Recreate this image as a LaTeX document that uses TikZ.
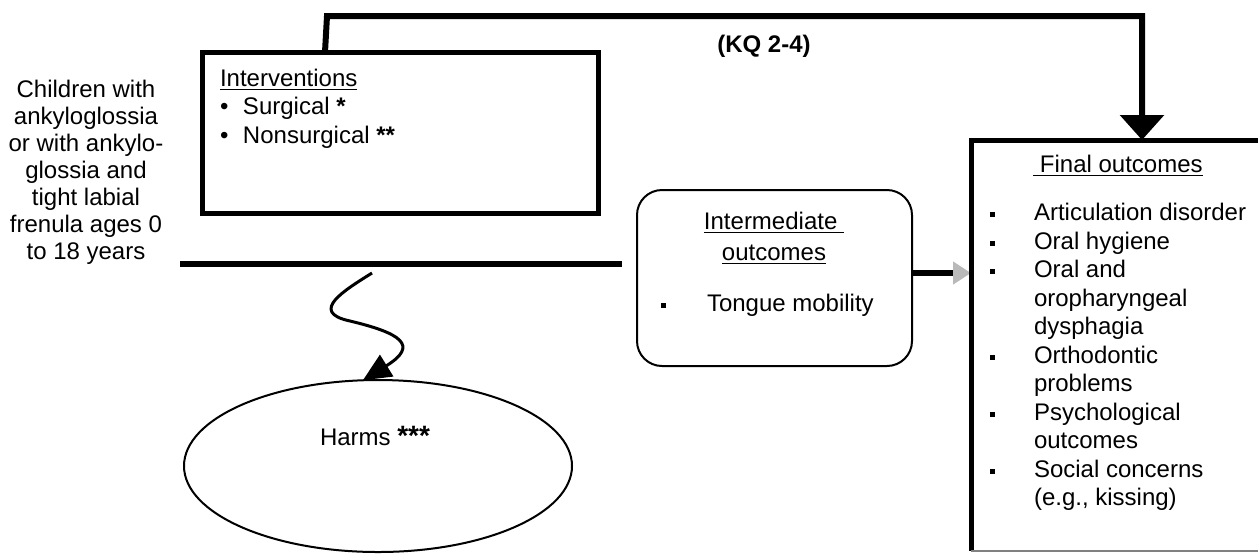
\documentclass[tikz,border=0pt]{standalone}
\usepackage{fontspec}
\setmainfont{Liberation Sans}
\usetikzlibrary{arrows.meta,shapes.geometric,calc}
\begin{document}
\begin{tikzpicture}[x=0.5pt,y=-0.5pt,
  every node/.style={inner sep=0pt, outer sep=0pt, font=\fontsize{12}{13.5}\selectfont},
  thickbox/.style={draw, line width=2.5pt},
  thinbox/.style={draw, line width=1pt},
  heavy/.style={line width=3pt},
  bul/.style={fill=black}
]
\useasboundingbox (0,0) rectangle (1258,554);

% boxes
\node[thickbox, minimum width=198pt, minimum height=80.5pt] (intv) at (400,132.5) {};
\node[thinbox, rounded corners=12.5pt, minimum width=137.5pt, minimum height=88pt] (inter) at (774.5,278) {};
\node[minimum width=143.5pt, minimum height=205.5pt] (final) at (1114.5,345.5) {};
\node[ellipse, thinbox, minimum width=194pt, minimum height=86pt] (harms) at (378,466) {};

% population text
\node[anchor=north, align=center] (pop) at (86,80) {Children with\\ankyloglossia\\or with ankylo-\\glossia and\\tight labial\\frenula ages 0\\to 18 years};

% interventions text
\node[anchor=base west] (iv0) at (220,86) {\underline{Interventions}};
\node[anchor=base west] (iv1) at (220,114) {\makebox[11.5pt][l]{\textbullet}Surgical \textbf{*}};
\node[anchor=base west] (iv2) at (220,143) {\makebox[11.5pt][l]{\textbullet}Nonsurgical \textbf{**}};

% KQ label
\node[font=\fontsize{12}{13.5}\selectfont\bfseries] (kq) at (764,46) {(KQ 2-4)};

% intermediate text
\node[anchor=base] (im1) at (774,229.6) {\underline{Intermediate\ }};
\node[anchor=base] (im2) at (774,260.6) {\underline{outcomes}};
\node[anchor=base west] (im3) at (707,311.6) {Tongue mobility};
\fill[bul] ($(im3.base west)+(-46.5,-8.5)$) rectangle +(5,5);

% harms text
\node[anchor=base west] (ht) at (320,445.6) {Harms {\fontsize{14}{14}\selectfont\bfseries ***}};

% final outcomes text
\node[anchor=base] (fot) at (1118,172) {\underline{\ Final outcomes}};
\foreach \t [count=\i] in {Articulation disorder, Oral hygiene, Oral and, oropharyngeal, dysphagia, Orthodontic, problems, Psychological, outcomes, Social concerns, {(e.g., kissing)}}
  \node[anchor=base west] (fo\i) at (1034,{220.6+(\i-1)*28.5}) {\t};
\foreach \i in {1,2,3,6,8,10}
  \fill[bul] ($(fo\i.base west)+(-44.5,-8.5)$) rectangle +(5,5);

% population line
\coordinate (l1) at (180,264);
\coordinate (l2) at (622,264);
\draw[heavy] (l1) -- (l2);

% wiggly arrow to harms
\coordinate (w0) at (372,273);
\draw[line width=1.5pt, -{Triangle[length=14pt,width=12.5pt]}]
  (w0) .. controls (345,290) and (308,312) .. (350,321)
       .. controls (400,333) and (420,345) .. (harms.100);

% intermediate -> final
\coordinate (ia) at ($(inter.east)+(0,-5)$);
\draw[heavy, -{Triangle[length=9pt,width=11pt,color=gray!55]}] (ia) -- (ia -| final.west);

% top connector
\coordinate (p1) at (325,52);
\coordinate (p2) at (327,16);
\coordinate (p3) at (1142,16);
\draw[heavy, line join=miter, -{Triangle[length=12.5pt,width=21.5pt]}] (p1) -- (p2) -- (p3) -- (p3 |- final.north);

% final box edges (right side beyond picture)
\draw[line width=2.5pt, line join=miter] (final.north east) -- (final.north west) -- (final.south west);
\draw[gray, line width=0.6pt] (final.south west) -- (final.south east);
\end{tikzpicture}
\end{document}
